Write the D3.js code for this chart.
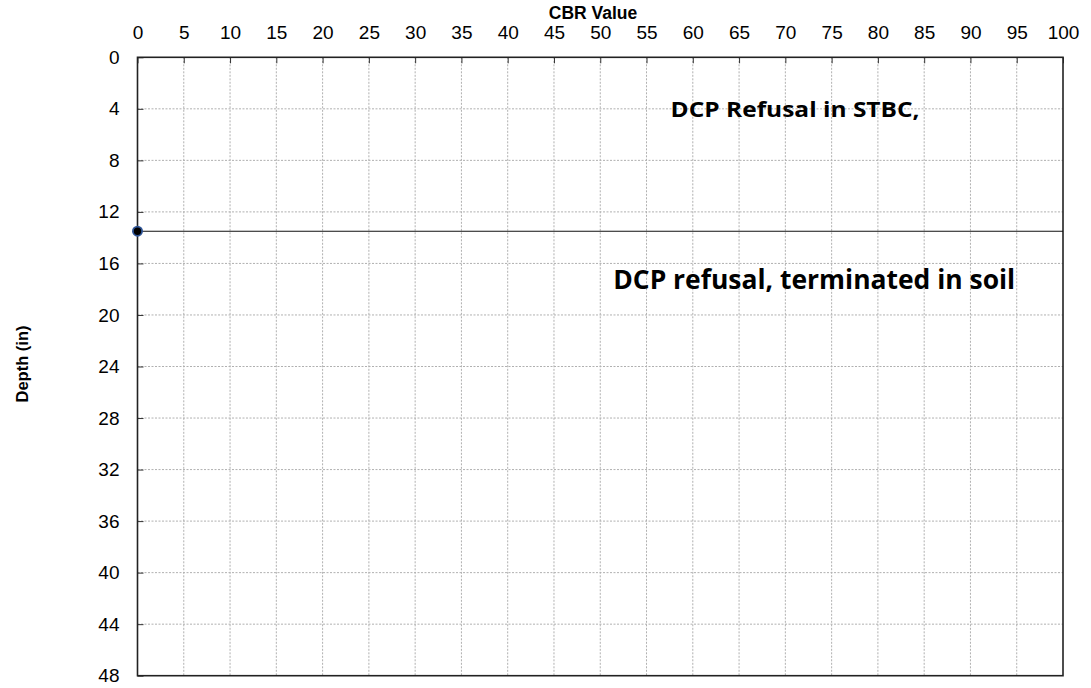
<!DOCTYPE html>
<html>
<head>
<meta charset="utf-8">
<script src="https://cdn.jsdelivr.net/npm/d3@7"></script>
<style>
  html, body { margin: 0; padding: 0; background: #fff; }
  svg { display: block; }
</style>
</head>
<body>
<svg id="chart" width="1091" height="688"></svg>
<script>
// DCP test result: CBR value against depth
const cbrTicks = [0, 5, 10, 15, 20, 25, 30, 35, 40, 45, 50, 55, 60, 65, 70, 75, 80, 85, 90, 95, 100];
const depthTicks = [0, 4, 8, 12, 16, 20, 24, 28, 32, 36, 40, 44, 48];
const cbrValues = [0];
const depthValues = [13.5];
const refusalDepth = 13.5;
const notes = [
  { text: "DCP Refusal in STBC,", cbr: 57.6, depth: 4.6, size: 22, width: 249 },
  { text: "DCP refusal, terminated in soil", cbr: 51.4, depth: 17.95, size: 26, width: 402 }
];

const svg = d3.select("#chart");
const margin = { left: 137.5, right: 1063, top: 57.3, bottom: 675.7 };

const x = d3.scaleLinear().domain([0, 100]).range([margin.left, margin.right]);
const y = d3.scaleLinear().domain([0, 48]).range([margin.top, margin.bottom]);

// gridlines
const grid = svg.append("g");
grid.selectAll("line.vx").data(cbrTicks.slice(1, -1)).join("line")
  .attr("x1", d => x(d)).attr("x2", d => x(d))
  .attr("y1", margin.top).attr("y2", margin.bottom)
  .attr("stroke", "#b0b0b0").attr("stroke-width", 1).attr("stroke-dasharray", "2,1.5");
grid.selectAll("line.hy").data(depthTicks.slice(1, -1)).join("line")
  .attr("x1", margin.left).attr("x2", margin.right)
  .attr("y1", d => y(d)).attr("y2", d => y(d))
  .attr("stroke", "#b0b0b0").attr("stroke-width", 1).attr("stroke-dasharray", "2,1.5");

// top axis (ticks point into the plot)
const xAxis = d3.axisTop(x).tickValues(cbrTicks).tickSize(-6).tickPadding(18).tickFormat(d3.format("d"));
const gx = svg.append("g").attr("transform", `translate(0,${margin.top})`).call(xAxis);
gx.select(".domain").remove();
gx.selectAll(".tick line").attr("stroke", "#333");
gx.selectAll(".tick text").attr("font-family", "Liberation Sans, Arial, sans-serif")
  .attr("font-size", 19).attr("fill", "#000");

// left axis
const yAxis = d3.axisLeft(y).tickValues(depthTicks).tickSize(-6).tickPadding(18).tickFormat(d3.format("d"));
const gy = svg.append("g").attr("transform", `translate(${margin.left},0)`).call(yAxis);
gy.select(".domain").remove();
gy.selectAll(".tick line").attr("stroke", "#333");
gy.selectAll(".tick text").attr("font-family", "Liberation Sans, Arial, sans-serif")
  .attr("font-size", 19).attr("fill", "#000");

// plot frame
svg.append("rect")
  .attr("x", margin.left).attr("y", margin.top)
  .attr("width", margin.right - margin.left).attr("height", margin.bottom - margin.top)
  .attr("fill", "none").attr("stroke", "#222").attr("stroke-width", 1.6);

// axis titles
svg.append("text").attr("x", 593).attr("y", 18.5).attr("text-anchor", "middle")
  .attr("font-family", "Liberation Sans, Arial, sans-serif").attr("font-weight", "bold")
  .attr("font-size", 17.5).text("CBR Value");
svg.append("text").attr("transform", "translate(28,364) rotate(-90)").attr("text-anchor", "middle")
  .attr("font-family", "Liberation Sans, Arial, sans-serif").attr("font-weight", "bold")
  .attr("font-size", 16.5).text("Depth (in)");

// refusal depth line
svg.append("line")
  .attr("x1", x(0)).attr("x2", x(100))
  .attr("y1", y(refusalDepth)).attr("y2", y(refusalDepth))
  .attr("stroke", "#111").attr("stroke-width", 1.2);

// measured points
svg.selectAll("circle.pt").data(cbrValues.map((c, i) => [c, depthValues[i]])).join("circle")
  .attr("cx", d => x(d[0])).attr("cy", d => y(d[1])).attr("r", 4.6)
  .attr("fill", "#000").attr("stroke", "#2f5597").attr("stroke-width", 1.8);

// annotations
svg.selectAll("text.note").data(notes).join("text")
  .attr("x", d => x(d.cbr)).attr("y", d => y(d.depth))
  .attr("font-family", "'Open Sans', Lato, sans-serif").attr("font-weight", "bold")
  .attr("font-size", d => d.size).attr("fill", "#000")
  .attr("textLength", d => d.width).attr("lengthAdjust", "spacingAndGlyphs")
  .text(d => d.text);
</script>
</body>
</html>
